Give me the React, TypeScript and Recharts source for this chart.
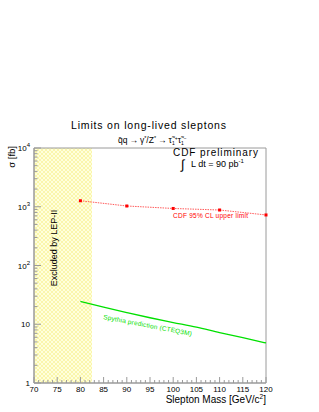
import { LineChart, Line, XAxis, YAxis, ReferenceArea } from "recharts";

const limitMass = [80, 90, 100, 110, 120];
const limitXsec = [1265, 1030, 935, 880, 725];

const theoryMass = [80, 85, 90, 95, 100, 105, 110, 115, 120];
const theoryXsec = [24.4, 19.5, 15.8, 12.9, 10.7, 8.9, 7.2, 5.9, 4.8];

const lepLimit = [70, 82.5];

const decades = [1, 10, 100, 1000];
const yTicks = [...decades.flatMap((d) => [1, 2, 3, 4, 5, 6, 7, 8, 9].map((m) => m * d)), 10000];
const xMajor = [70, 75, 80, 85, 90, 95, 100, 105, 110, 115, 120];
const xTicks = Array.from({ length: 51 }, (_, i) => 70 + i);

const limitData = limitMass.map((m, i) => ({ mass: m, xsec: limitXsec[i] }));
const theoryData = theoryMass.map((m, i) => ({ mass: m, xsec: theoryXsec[i] }));

const FONT = "'Liberation Sans', Arial, sans-serif";
const AXIS = "#9a9a9a";

const YTick = (props: any) => {
  const { x, y, payload } = props;
  const v = payload.value;
  const lg = Math.log10(v);
  const major = Math.abs(lg - Math.round(lg)) < 1e-6;
  const len = major ? 7 : 3.5;
  const p = Math.round(lg);
  return (
    <g>
      <line x1={x} x2={x + len} y1={y} y2={y} stroke={AXIS} strokeWidth={1} />
      {major && (
        <text x={x - 4} y={y + 3} textAnchor="end" fontSize={8} fill="#000" fontFamily={FONT}>
          {p === 0 ? "1" : "10"}
          {p > 1 && (
            <tspan dy={-4} fontSize={6}>
              {p}
            </tspan>
          )}
        </text>
      )}
    </g>
  );
};

const XTick = (props: any) => {
  const { x, y, payload } = props;
  const major = xMajor.includes(payload.value);
  const len = major ? 6 : 3;
  return (
    <g>
      <line x1={x} x2={x} y1={y} y2={y - len} stroke={AXIS} strokeWidth={1} />
      {major && (
        <text x={x} y={y + 8.5} textAnchor="middle" fontSize={8} fill="#000" fontFamily={FONT}>
          {payload.value}
        </text>
      )}
    </g>
  );
};

const RedDot = (props: any) => {
  const { cx, cy } = props;
  return <rect x={cx - 1.5} y={cy - 1.5} width={3} height={3} fill="#ff0000" />;
};

export default function App() {
  return (
    <div style={{ position: "absolute", left: 0, top: 0, width: 319, height: 412, background: "#fff" }}>
      <LineChart
        width={319}
        height={412}
        margin={{ top: 148, right: 53, bottom: 0, left: 8 }}
      >
        <defs>
          <pattern id="hatch" width={4} height={4} patternUnits="userSpaceOnUse">
            <rect width={4} height={4} fill="#ffffdc" />
            <path d="M0,0 L4,4 M4,0 L0,4" stroke="#f6f08c" strokeWidth={0.6} />
          </pattern>
        </defs>
        <XAxis
          dataKey="mass"
          type="number"
          domain={[70, 120]}
          ticks={xTicks}
          interval={0}
          height={29}
          tickSize={0}
          tickMargin={0}
          tickLine={false}
          tick={<XTick />}
          axisLine={{ stroke: AXIS }}
          allowDuplicatedCategory={false}
        />
        <YAxis
          type="number"
          scale="log"
          domain={[1, 10000]}
          ticks={yTicks}
          interval={0}
          width={26}
          tickSize={0}
          tickMargin={0}
          tickLine={false}
          tick={<YTick />}
          axisLine={{ stroke: AXIS }}
          allowDataOverflow
        />
        <ReferenceArea
          x1={lepLimit[0]}
          x2={lepLimit[1]}
          y1={1}
          y2={10000}
          fill="url(#hatch)"
          fillOpacity={1}
          stroke="none"
        />
        <ReferenceArea x1={70} x2={120} y1={1} y2={10000} fill="none" stroke={AXIS} strokeWidth={1} />
        <Line
          data={theoryData}
          dataKey="xsec"
          type="monotone"
          stroke="#00e000"
          strokeWidth={1.3}
          dot={false}
          isAnimationActive={false}
        />
        <Line
          data={limitData}
          dataKey="xsec"
          type="linear"
          stroke="#ff3030"
          strokeWidth={0.8}
          strokeDasharray="1.5 1"
          dot={<RedDot />}
          isAnimationActive={false}
        />
      </LineChart>
      <svg
        width={319}
        height={412}
        style={{ position: "absolute", left: 0, top: 0, pointerEvents: "none" }}
        fontFamily={FONT}
      >
        <text x={71} y={128.5} fontSize={10.5} textLength={155} lengthAdjust="spacing" fill="#000">
          Limits on long-lived sleptons
        </text>
        <text x={118} y={142.5} fontSize={8.5} fill="#000">
          q{"\u0304"}q
          <tspan dx={2}>{"\u2192"}</tspan>
          <tspan dx={2}>{"\u03b3"}</tspan>
          <tspan dy={-3} fontSize={5.5}>*</tspan>
          <tspan dy={3}>/Z</tspan>
          <tspan dy={-3} fontSize={5.5}>*</tspan>
          <tspan dx={2} dy={3}>{"\u2192"}</tspan>
          <tspan dx={2}>{"\u03c4\u0303"}</tspan>
          <tspan dy={2} fontSize={5}>1</tspan>
          <tspan dy={-5} fontSize={5}>+</tspan>
          <tspan dy={3}>{"\u03c4\u0303"}</tspan>
          <tspan dy={2} fontSize={5}>1</tspan>
          <tspan dy={-5} fontSize={5}>{"\u2212"}</tspan>
        </text>
        <text x={173} y={156} fontSize={10} textLength={85} lengthAdjust="spacing" fill="#000">
          CDF preliminary
        </text>
        <text x={181} y={168.5} fontSize={13} fill="#000">
          {"\u222b"}
        </text>
        <text x={191} y={167} fontSize={9} fill="#000">
          L dt = 90 pb
          <tspan dy={-4} fontSize={6}>-1</tspan>
        </text>
        <text
          x={0}
          y={0}
          fontSize={9.5}
          textAnchor="end"
          fill="#000"
          transform="translate(15,146) rotate(-90)"
        >
          {"\u03c3"} [fb]
        </text>
        <text
          x={0}
          y={0}
          fontSize={9}
          textAnchor="middle"
          fill="#000"
          transform="translate(57,248) rotate(-90)"
        >
          Excluded by LEP-II
        </text>
        <text x={173} y={217.5} fontSize={6.5} fill="#ff0000" textLength={75} lengthAdjust="spacing">
          CDF 95% CL upper limit
        </text>
        <text
          x={0}
          y={0}
          fontSize={6.5}
          fill="#00e000"
          textLength={90}
          lengthAdjust="spacing"
          transform="translate(103,319) rotate(10.8)"
        >
          Spythia prediction (CTEQ3M)
        </text>
        <text x={266} y={403} fontSize={10} textAnchor="end" fill="#000">
          Slepton Mass [GeV/c
          <tspan dy={-4} fontSize={6.5}>2</tspan>
          <tspan dy={4}>]</tspan>
        </text>
      </svg>
    </div>
  );
}
